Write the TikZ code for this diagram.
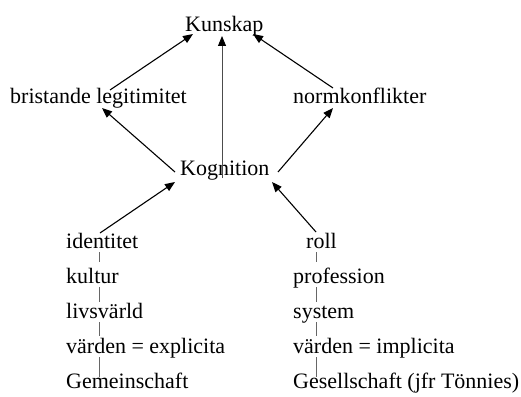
\documentclass[tikz,border=0pt]{standalone}
\usepackage{fontspec}
\setmainfont{Liberation Serif}
\usetikzlibrary{arrows.meta,calc}
\begin{document}
\begin{tikzpicture}[x=1pt,y=-1pt,
  lbl/.style={anchor=base west,inner sep=0pt,font=\fontsize{22}{26}\selectfont},
  arr/.style={line width=1.1pt,-{Triangle[length=10pt,width=8pt]}},
  midarr/.style={line width=0.9pt,draw=black!70,-{Triangle[length=10pt,width=8pt,color=black]}},
  link/.style={line width=0.9pt,draw=black!60}]
\useasboundingbox[fill=white] (0,0) rectangle (521,396);
\node[lbl] (kunskap) at (185,31) {Kunskap};
\node[lbl] (brist) at (10,103) {bristande legitimitet};
\node[lbl] (norm) at (293,103) {normkonflikter};
\node[lbl] (kogn) at (180,175) {Kognition};
\node[lbl] (ident) at (66,248) {identitet};
\node[lbl] (kultur) at (66,283) {kultur};
\node[lbl] (livs) at (66,318) {livsvärld};
\node[lbl] (vardenL) at (66,353) {värden = explicita};
\node[lbl] (gemein) at (66,388) {Gemeinschaft};
\node[lbl] (roll) at (306,248) {roll};
\node[lbl] (prof) at (293,283) {profession};
\node[lbl] (system) at (293,318) {system};
\node[lbl] (vardenR) at (293,353) {värden = implicita};
\node[lbl] (gesell) at (293,388) {Gesellschaft (jfr Tönnies)};
% arrows to Kunskap
\draw[arr] ($(brist.base west)+(100,-13)$) -- ($(kunskap.base west)+(8,3)$);
\draw[midarr] ($(kogn.base west)+(42,3)$) -- ($(kunskap.base west)+(37,5)$);
\draw[arr] ($(norm.base west)+(40,-15)$) -- ($(kunskap.base west)+(68,3)$);
% arrows from Kognition
\draw[arr] ($(kogn.base west)+(-5,-3)$) -- ($(brist.base west)+(92,5)$);
\draw[arr] ($(kogn.base west)+(98,-3)$) -- ($(norm.base west)+(40,5)$);
% arrows to Kognition
\draw[arr] ($(ident.base west)+(34,-15)$) -- ($(kogn.base west)+(-5,7)$);
\draw[arr] ($(roll.base west)+(10,-16)$) -- ($(kogn.base west)+(92,7)$);
% grey links left
\draw[link] ($(ident.base west)+(33,4)$) -- ($(kultur.base west)+(33,-21)$);
\draw[link] ($(kultur.base west)+(33,4)$) -- ($(livs.base west)+(33,-16)$);
\draw[link] ($(livs.base west)+(33,4)$) -- ($(vardenL.base west)+(33,-17)$);
\draw[link] ($(vardenL.base west)+(33,4)$) -- ($(gemein.base west)+(33,-11)$);
% grey links right
\draw[link] ($(roll.base west)+(10,4)$) -- ($(prof.base west)+(23,-21)$);
\draw[link] ($(prof.base west)+(23,4)$) -- ($(system.base west)+(23,-16)$);
\draw[link] ($(system.base west)+(23,4)$) -- ($(vardenR.base west)+(23,-17)$);
\draw[link] ($(vardenR.base west)+(23,4)$) -- ($(gesell.base west)+(23,-11)$);
\end{tikzpicture}
\end{document}
